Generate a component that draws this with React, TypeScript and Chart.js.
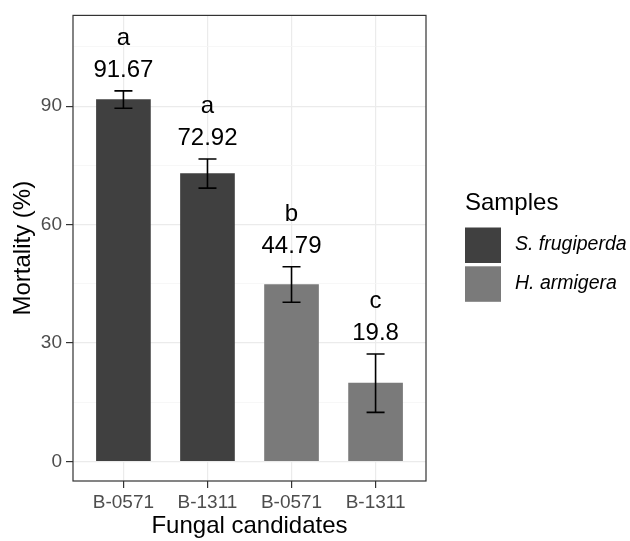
import React, { useEffect, useRef } from 'react';
import { Chart, registerables } from 'chart.js';

Chart.register(...registerables);

// ---- data ----
const categories = ['B-0571', 'B-1311', 'B-0571', 'B-1311'];
const sampleNames = ['S. frugiperda', 'H. armigera'];
const sampleOfCategory = [0, 0, 1, 1];
const mortality = [91.67, 72.92, 44.79, 19.8];
const errorSize = [2.2, 3.7, 4.5, 7.4];
const groupLetters = ['a', 'a', 'b', 'c'];
const valueLabels = ['91.67', '72.92', '44.79', '19.8'];
const yMajorTicks = [0, 30, 60, 90];
const yMinorTicks = [15, 45, 75, 105];
const sampleColors = ['#404040', '#7a7a7a'];

const FONT = '"Liberation Sans", Arial, Helvetica, sans-serif';

const overlayPlugin = {
  id: 'overlay',
  afterDatasetsDraw(chart: any) {
    const { ctx, chartArea, scales } = chart;
    const x = scales.x;
    const y = scales.y;
    ctx.save();
    // error bars
    ctx.strokeStyle = '#000';
    ctx.lineWidth = 1.6;
    mortality.forEach((m, i) => {
      const px = x.getPixelForValue(i + 1);
      const top = y.getPixelForValue(m + errorSize[i]);
      const bot = y.getPixelForValue(m - errorSize[i]);
      ctx.beginPath();
      ctx.moveTo(px, top);
      ctx.lineTo(px, bot);
      ctx.moveTo(px - 9, top);
      ctx.lineTo(px + 9, top);
      ctx.moveTo(px - 9, bot);
      ctx.lineTo(px + 9, bot);
      ctx.stroke();
      ctx.fillStyle = '#000';
      ctx.font = `24px ${FONT}`;
      ctx.textAlign = 'center';
      ctx.textBaseline = 'alphabetic';
      ctx.fillText(valueLabels[i], px, top - 14);
      ctx.fillText(groupLetters[i], px, top - 46);
    });
    // panel border
    ctx.strokeStyle = '#333333';
    ctx.lineWidth = 1.2;
    ctx.strokeRect(
      chartArea.left,
      chartArea.top,
      chartArea.right - chartArea.left,
      chartArea.bottom - chartArea.top
    );
    ctx.restore();
  },
  afterDraw(chart: any) {
    const { ctx, chartArea } = chart;
    ctx.save();
    const lx = chartArea.right + 39;
    ctx.fillStyle = '#000';
    ctx.font = `24px ${FONT}`;
    ctx.textAlign = 'left';
    ctx.textBaseline = 'alphabetic';
    ctx.fillText('Samples', lx, 210);
    sampleNames.forEach((name, s) => {
      const ky = 227.5 + s * 38.8;
      ctx.fillStyle = sampleColors[s];
      ctx.fillRect(lx, ky, 36, 35.5);
      ctx.fillStyle = '#000';
      ctx.font = `italic 19.5px ${FONT}`;
      ctx.textBaseline = 'middle';
      ctx.fillText(name, lx + 50, ky + 17);
    });
    ctx.restore();
  },
};

export default function App() {
  const ref = useRef<HTMLCanvasElement>(null);
  useEffect(() => {
    document.body.style.margin = '0';
    const canvas = ref.current;
    if (!canvas) return;
    const datasets = sampleNames.map((name, s) => ({
      label: name,
      data: categories
        .map((_, i) => (sampleOfCategory[i] === s ? { x: i + 1, y: mortality[i] } : null))
        .filter((p) => p !== null),
      backgroundColor: sampleColors[s],
      borderWidth: 0,
      barThickness: 54,
      grouped: false,
    }));
    const chart = new Chart(canvas, {
      type: 'bar',
      data: { datasets } as any,
      options: {
        animation: false,
        responsive: false,
        devicePixelRatio: 1,
        layout: { padding: { left: 0, top: 12, right: 204, bottom: 0 } },
        plugins: { legend: { display: false }, tooltip: { enabled: false } },
        scales: {
          x: {
            type: 'linear',
            offset: false,
            min: 0.4,
            max: 4.6,
            afterBuildTicks: (scale: any) => {
              scale.ticks = categories.map((_, i) => ({ value: i + 1 }));
            },
            afterFit: (scale: any) => {
              scale.height = 60;
            },
            ticks: {
              callback: (v: any) => categories[Number(v) - 1] ?? '',
              color: '#4d4d4d',
              font: { family: FONT, size: 19 },
              padding: 3,
              maxRotation: 0,
              autoSkip: false,
            },
            grid: {
              offset: false,
              color: '#ebebeb',
              lineWidth: 1.2,
              tickColor: '#333333',
              tickLength: 7,
              drawTicks: true,
            },
            border: { display: false },
            title: {
              display: true,
              text: 'Fungal candidates',
              color: '#000',
              font: { family: FONT, size: 24 },
              padding: { top: 0, bottom: 0 },
            },
          },
          y: {
            type: 'linear',
            min: -5,
            max: 113,
            afterBuildTicks: (scale: any) => {
              scale.ticks = [...yMajorTicks, ...yMinorTicks]
                .sort((a, b) => a - b)
                .map((v) => ({ value: v }));
            },
            afterFit: (scale: any) => {
              scale.width = 73;
            },
            ticks: {
              callback: (v: any) => (yMajorTicks.includes(Number(v)) ? String(v) : ''),
              color: '#4d4d4d',
              font: { family: FONT, size: 19 },
              padding: 4,
            },
            grid: {
              color: (c: any) => (yMajorTicks.includes(c.tick?.value) ? '#ebebeb' : '#f5f5f5'),
              lineWidth: (c: any) => (yMajorTicks.includes(c.tick?.value) ? 1.2 : 0.8),
              tickColor: (c: any) => (yMajorTicks.includes(c.tick?.value) ? '#333333' : 'rgba(0,0,0,0)'),
              tickLength: 7,
            },
            border: { display: false },
            title: {
              display: true,
              text: 'Mortality (%)',
              color: '#000',
              font: { family: FONT, size: 24 },
              padding: { top: 9, bottom: 0 },
            },
          },
        },
      },
      plugins: [overlayPlugin],
    } as any);
    return () => chart.destroy();
  }, []);
  return <canvas ref={ref} width={630} height={541} style={{ display: 'block' }} />;
}
